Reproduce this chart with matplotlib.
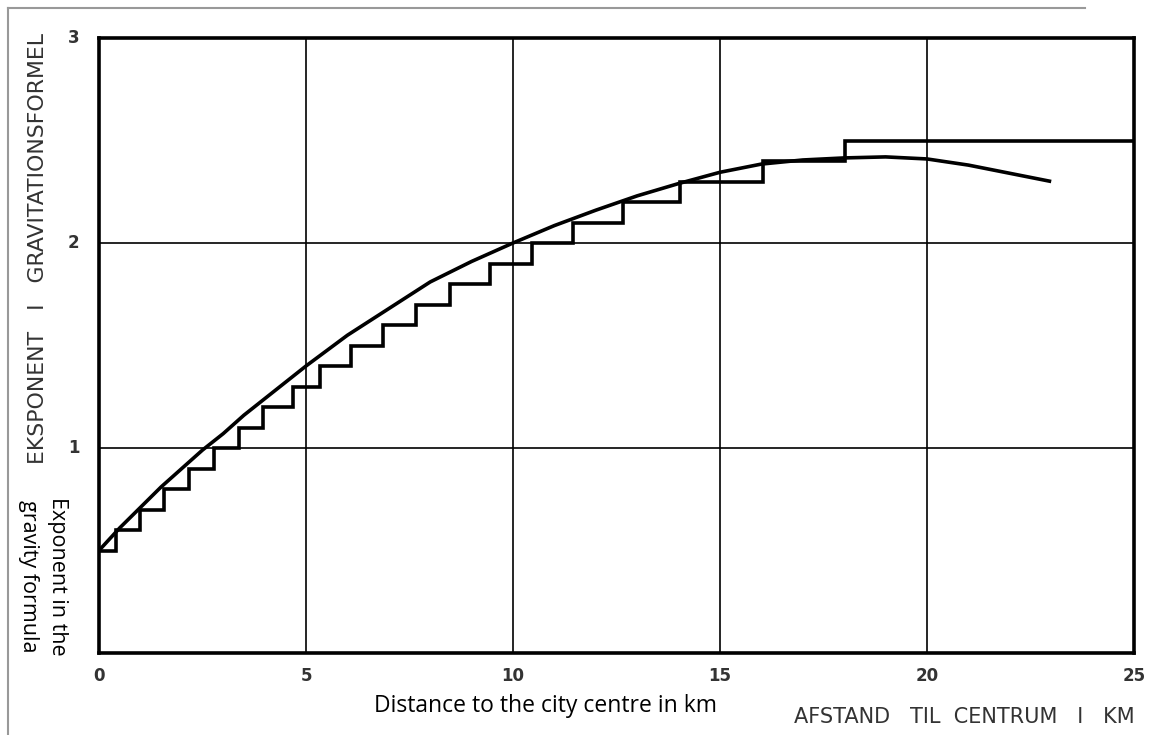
import numpy as np
import matplotlib.pyplot as plt
from matplotlib.lines import Line2D

# Stufenfunktion: Grenzen der Stufen (km) und Stufenhoehe
step_edges = [0, 0.41, 0.99, 1.57, 2.17, 2.78, 3.38, 3.96, 4.69, 5.34, 6.09, 6.86,
              7.66, 8.48, 9.45, 10.47, 11.45, 12.66, 14.03, 16.04, 18.03, 25]
step_levels = [0.5, 0.6, 0.7, 0.8, 0.9, 1.0, 1.1, 1.2, 1.3, 1.4, 1.5, 1.6,
               1.7, 1.8, 1.9, 2.0, 2.1, 2.2, 2.3, 2.4, 2.5]

# Glatte Kurve
curve_x = [0, 0.5, 1, 1.5, 2, 2.5, 3, 3.5, 4, 4.5, 5, 5.5, 6, 6.5, 7, 7.5, 8,
           8.5, 9, 9.5, 10, 11, 12, 13, 14, 15, 16, 17, 18, 19, 20, 21, 22, 23]
curve_y = [0.50, 0.61, 0.71, 0.81, 0.90, 0.99, 1.07, 1.16, 1.24, 1.32, 1.40,
           1.475, 1.55, 1.615, 1.68, 1.745, 1.81, 1.86, 1.91, 1.955, 2.00,
           2.085, 2.16, 2.23, 2.29, 2.345, 2.385, 2.405, 2.415, 2.42, 2.41,
           2.38, 2.34, 2.30]

x_ticks = [0, 5, 10, 15, 20, 25]
y_ticks = [1, 2, 3]

fig = plt.figure(figsize=(11.51, 7.35), dpi=100)
ax = fig.add_axes([99/1151, 1 - 653/735, (1134 - 99)/1151, (653 - 38)/735])

# Stufen zeichnen
sx = np.repeat(step_edges, 2)[1:-1]
sy = np.repeat(step_levels, 2)
ax.plot(sx, sy, color="black", lw=2.6, solid_joinstyle="miter")
ax.plot(curve_x, curve_y, color="black", lw=2.6, solid_capstyle="butt")

ax.set_xlim(0, 25)
ax.set_ylim(0, 3)
ax.set_xticks(x_ticks)
ax.set_yticks(y_ticks)
ax.grid(True, color="black", lw=1.2)
ax.tick_params(length=0, pad=10, labelsize=12, labelcolor="#333333")
for s in ax.spines.values():
    s.set_linewidth(2.6)
    s.set_color("black")
ax.set_yticklabels([str(v) for v in y_ticks], fontweight="bold")
ax.set_xticklabels([str(v) for v in x_ticks], fontweight="bold")
for lab in ax.get_yticklabels():
    lab.set_verticalalignment("center")
ax.tick_params(axis="y", pad=14)

# Texte
fig.text(38/1151, 1 - 248/735, "EKSPONENT   I   GRAVITATIONSFORMEL", rotation=90,
         ha="center", va="center", fontsize=15.8, color="#333333")
fig.text(43/1151, 1 - 576/735, "Exponent in the\ngravity formula", rotation=-90,
         ha="center", va="center", fontsize=15.5, color="black",
         fontfamily="Open Sans", linespacing=1.55)
fig.text(545/1151, 1 - 706/735, "Distance to the city centre in km",
         ha="center", va="center", fontsize=16.5, color="black", fontfamily="Open Sans")
fig.text(1135/1151, 1 - 717/735, "AFSTAND   TIL  CENTRUM   I   KM",
         ha="right", va="center", fontsize=15, color="#333333")

# grauer Rahmen des Scans
fig.add_artist(Line2D([8/1151, 8/1151], [0, 1 - 8/735], color="#999999", lw=1.5))
fig.add_artist(Line2D([8/1151, 1085/1151], [1 - 8/735, 1 - 8/735], color="#999999", lw=1.5))

fig.savefig("out.png", dpi=100)
